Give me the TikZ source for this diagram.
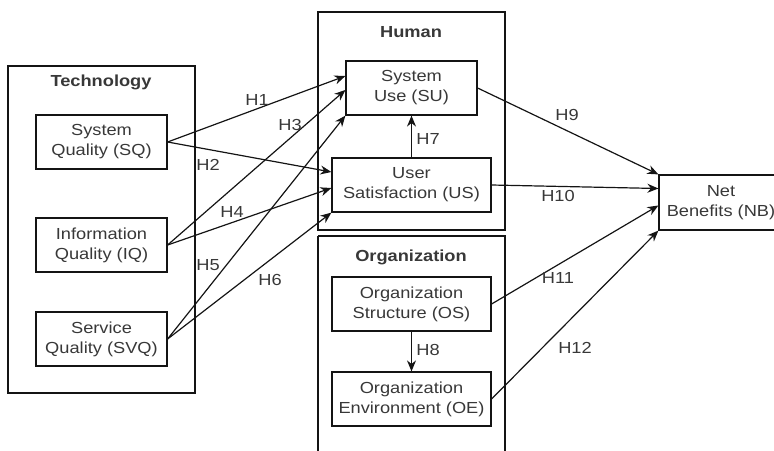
\documentclass[tikz,border=0pt]{standalone}
\usepackage{fontspec}
\setmainfont[FakeStretch=1.14]{Liberation Sans}
\usetikzlibrary{arrows.meta}
\definecolor{txt}{HTML}{383838}
\definecolor{ln}{HTML}{141414}
\begin{document}
\begin{tikzpicture}[x=1pt,y=-1pt,
  box/.style={draw=ln,line width=1.2pt,fill=white,minimum width=131pt,minimum height=54pt,inner sep=0pt,align=center,text=txt,font=\fontsize{16}{20}\selectfont},
  wbox/.style={box,minimum width=159pt},
  grp/.style={draw=ln,line width=1.2pt},
  grptitle/.style={text=txt,font=\fontsize{16}{20}\selectfont\bfseries},
  lab/.style={text=txt,font=\fontsize{16}{20}\selectfont,inner sep=0pt},
  arr/.style={draw=ln,line width=1.2pt,-{Stealth[length=11pt,width=9pt]}}]
\useasboundingbox (0,0) rectangle (774,450);
\clip (0,0) rectangle (774,450);
% groups
\draw[grp] (8,66) rectangle (195,393);
\draw[grp] (318,12) rectangle (505,230);
\draw[grp] (318,236) -- (318,470) (505,470) -- (505,236) -- (318,236);
\node[grptitle] (tech) at (101,82) {Technology};
\node[grptitle] (hum) at (411,32) {Human};
\node[grptitle] (org) at (411,257) {Organization};
% nodes
\node[box] (SQ) at (101.5,142) {System\\Quality (SQ)};
\node[box] (IQ) at (101.5,245) {Information\\Quality (IQ)};
\node[box] (SVQ) at (101.5,339) {Service\\Quality (SVQ)};
\node[box] (SU) at (411.5,88) {System\\Use (SU)};
\node[wbox] (US) at (411.5,185) {User\\Satisfaction (US)};
\node[wbox] (OS) at (411.5,304) {Organization\\Structure (OS)};
\node[wbox] (OE) at (411.5,399) {Organization\\Environment (OE)};
\node[box,minimum width=124pt,minimum height=55pt] (NB) at (721,202.5) {Net\\Benefits (NB)};
% connectors
\draw[arr] (SQ.east) -- ([yshift=12pt]SU.west);
\draw[arr] (SQ.east) -- ([yshift=13pt]US.west);
\draw[arr] (IQ.east) -- ([yshift=-2pt]SU.west);
\draw[arr] (IQ.east) -- ([yshift=-3pt]US.west);
\draw[arr] (SVQ.east) -- (SU.south west);
\draw[arr] (SVQ.east) -- (US.south west);
\draw[arr] (US.north) -- (SU.south);
\draw[arr] (OS.south) -- (OE.north);
\draw[arr] (SU.east) -- (NB.north west);
\draw[arr] (US.east) -- ([yshift=14pt]NB.west);
\draw[arr] (OS.east) -- ([yshift=-3pt]NB.west);
\draw[arr] (OE.east) -- (NB.south west);
% labels
\node[lab] (h1) at (257,100) {H1};
\node[lab] (h2) at (208,165) {H2};
\node[lab] (h3) at (290,125) {H3};
\node[lab] (h4) at (232,212) {H4};
\node[lab] (h5) at (208,265) {H5};
\node[lab] (h6) at (270,280) {H6};
\node[lab] (h7) at (428,139) {H7};
\node[lab] (h8) at (428,350) {H8};
\node[lab] (h9) at (567,115) {H9};
\node[lab] (h10) at (558,196) {H10};
\node[lab] (h11) at (558,278) {H11};
\node[lab] (h12) at (575,348) {H12};
\end{tikzpicture}
\end{document}
